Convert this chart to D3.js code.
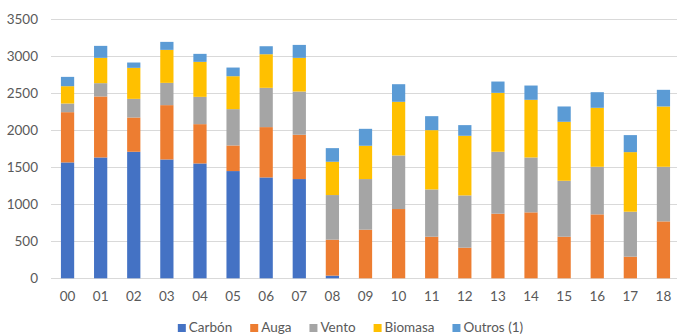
<!DOCTYPE html>
<html>
<head>
<meta charset="utf-8">
<script src="https://cdn.jsdelivr.net/npm/d3@7"></script>
<style>
  html, body { margin: 0; padding: 0; background: #fff; }
  svg { display: block; }
  text { font-family: Lato, "Open Sans", sans-serif; fill: #595959; }
</style>
</head>
<body>
<svg id="chart" width="677" height="336"></svg>
<script>
// Years (two-digit) along the x axis
const years = ["00","01","02","03","04","05","06","07","08","09","10","11","12","13","14","15","16","17","18"];

// Generation by source
const carbon  = [1566, 1633, 1710, 1606, 1552, 1449, 1363, 1341,   36,    0,    0,    0,    0,    0,    0,    0,    0,    0,    0];
const auga    = [ 679,  824,  463,  734,  531,  346,  680,  599,  486,  657,  936,  562,  414,  873,  891,  562,  864,  292,  769];
const vento   = [ 117,  180,  252,  301,  369,  491,  531,  584,  603,  684,  724,  639,  706,  837,  742,  756,  643,  608,  738];
const biomasa = [ 234,  342,  419,  446,  473,  445,  454,  455,  450,  450,  725,  801,  806,  796,  779,  797,  797,  805,  815];
const outros  = [ 126,  162,   72,  108,  108,  117,  108,  175,  184,  229,  238,  189,  144,  153,  193,  207,  211,  230,  225];

const seriesNames = ["Carbón", "Auga", "Vento", "Biomasa", "Outros (1)"];
const seriesColors = ["#4472C4", "#ED7D31", "#A5A5A5", "#FFC000", "#5B9BD5"];
const yTicks = [0, 500, 1000, 1500, 2000, 2500, 3000, 3500];

const seriesValues = [carbon, auga, vento, biomasa, outros];
const rows = years.map((yr, i) => {
  const r = { year: yr };
  seriesNames.forEach((n, k) => { r[n] = seriesValues[k][i]; });
  return r;
});

const svg = d3.select("#chart");
const plotLeft = 51, plotRight = 680, plotTop = 19.3, plotBottom = 278.3;
const fontStack = "Lato, 'Open Sans', sans-serif";

const x = d3.scaleBand().domain(years).range([plotLeft, plotRight]).paddingInner(0.6).paddingOuter(0.3);
const y = d3.scaleLinear().domain([0, 3500]).range([plotBottom, plotTop]);

// Gridlines
svg.append("g")
  .selectAll("line")
  .data(yTicks)
  .join("line")
  .attr("x1", plotLeft).attr("x2", plotRight)
  .attr("y1", d => Math.round(y(d)) + 0.5).attr("y2", d => Math.round(y(d)) + 0.5)
  .attr("stroke", "#D9D9D9").attr("stroke-width", 1);

// Y axis labels
const yAxis = d3.axisLeft(y).tickValues(yTicks).tickSize(0).tickPadding(0).tickFormat(d3.format("d"));
const gy = svg.append("g").attr("transform", "translate(38,0)").call(yAxis);
gy.select(".domain").remove();
gy.selectAll("text").attr("font-size", 13.5).style("font-family", fontStack).attr("fill", "#595959");

// Stacked bars
const layers = d3.stack().keys(seriesNames)(rows);
svg.append("g")
  .selectAll("g")
  .data(layers)
  .join("g")
  .attr("fill", (d, i) => seriesColors[i])
  .selectAll("rect")
  .data(d => d)
  .join("rect")
  .attr("x", d => x(d.data.year))
  .attr("width", x.bandwidth())
  .attr("y", d => y(d[1]))
  .attr("height", d => Math.max(0, y(d[0]) - y(d[1])));

// X axis labels
const xAxis = d3.axisBottom(x).tickSize(0).tickPadding(0);
const gx = svg.append("g").attr("transform", "translate(0,291)").call(xAxis);
gx.select(".domain").remove();
gx.selectAll("text").attr("font-size", 13.5).style("font-family", fontStack).attr("fill", "#595959");

// Legend, laid out left to right and centred under the plot
const legend = svg.append("g");
let lx = 0;
legend.selectAll("g").data(seriesNames).join("g").each(function(name, i) {
  const g = d3.select(this);
  g.append("rect").attr("x", 0).attr("y", -8).attr("width", 8).attr("height", 8).attr("fill", seriesColors[i]);
  const t = g.append("text").attr("x", 11).attr("font-size", 13.5).text(name);
  const w = 11 + t.node().getComputedTextLength();
  g.attr("transform", `translate(${lx},0)`);
  lx += w + 18;
});
const legendW = lx - 18;
legend.attr("transform", `translate(${350.5 - legendW / 2},332)`);
</script>
</body>
</html>
